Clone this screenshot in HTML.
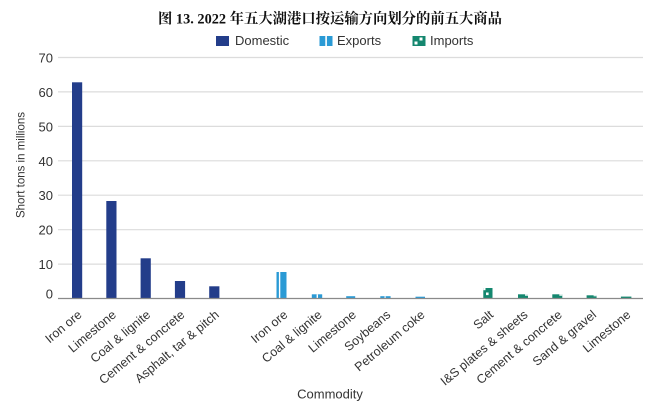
<!DOCTYPE html>
<html><head><meta charset="utf-8"><style>
html,body{margin:0;padding:0;background:#fff;}
svg{display:block;}
</style></head><body>
<svg width="660" height="403" viewBox="0 0 660 403" xmlns="http://www.w3.org/2000/svg">
<rect width="660" height="403" fill="#fff"/>
<text x="330" y="23.5" text-anchor="middle" font-family="'Liberation Serif','Noto Serif CJK SC',serif" font-weight="bold" font-size="14.5" textLength="344" lengthAdjust="spacingAndGlyphs" fill="#111">图 13. 2022 年五大湖港口按运输方向划分的前五大商品</text>
<!-- legend -->
<g font-family="'Liberation Sans',sans-serif" font-size="13" fill="#333">
<rect x="216" y="36" width="13" height="10" fill="#233d8a"/>
<text x="235" y="45">Domestic</text>
<rect x="319.5" y="36" width="13" height="10" fill="#2a9ad5"/>
<rect x="325.3" y="36" width="1.6" height="10" fill="#fff"/>
<text x="337" y="45">Exports</text>
<rect x="412.5" y="36" width="13" height="10" fill="#14876f"/>
<rect x="419.5" y="37.5" width="3" height="3" fill="#fff"/>
<rect x="414.5" y="41.5" width="3" height="3" fill="#fff"/>
<text x="430" y="45">Imports</text>
</g>
<!-- gridlines -->
<g stroke="#dcdcdc" stroke-width="1.2">
<line x1="58" y1="57.5" x2="643" y2="57.5"/>
<line x1="58" y1="91.9" x2="643" y2="91.9"/>
<line x1="58" y1="126.4" x2="643" y2="126.4"/>
<line x1="58" y1="160.8" x2="643" y2="160.8"/>
<line x1="58" y1="195.2" x2="643" y2="195.2"/>
<line x1="58" y1="229.7" x2="643" y2="229.7"/>
<line x1="58" y1="264.1" x2="643" y2="264.1"/>
</g>
<!-- y tick labels -->
<g font-family="'Liberation Sans',sans-serif" font-size="13" fill="#333" text-anchor="end">
<text x="53" y="62.5">70</text>
<text x="53" y="96.9">60</text>
<text x="53" y="131.4">50</text>
<text x="53" y="165.8">40</text>
<text x="53" y="200.2">30</text>
<text x="53" y="234.7">20</text>
<text x="53" y="269.1">10</text>
<text x="53" y="298.5">0</text>
</g>
<text transform="translate(24.5,165) rotate(-90)" text-anchor="middle" font-family="'Liberation Sans',sans-serif" font-size="12" textLength="106" lengthAdjust="spacingAndGlyphs" fill="#333">Short tons in millions</text>
<!-- domestic bars -->
<g fill="#233d8a">
<rect x="72" y="82.3" width="10.2" height="216.2"/>
<rect x="106.3" y="201" width="10.2" height="97.5"/>
<rect x="140.6" y="258.3" width="10.2" height="40.2"/>
<rect x="174.9" y="281" width="10.2" height="17.5"/>
<rect x="209.2" y="286.3" width="10.2" height="12.2"/>
</g>
<!-- export bars -->
<g fill="#2a9ad5">
<rect x="276.5" y="272" width="10" height="26.5"/>
<rect x="311.8" y="294.3" width="10.4" height="4.2"/>
<rect x="346.2" y="296.2" width="9" height="2.3"/>
<rect x="380.3" y="296.2" width="10.3" height="2.3"/>
<rect x="415.5" y="296.7" width="9.5" height="1.8"/>
</g>
<g fill="#fff">
<rect x="278.9" y="272" width="1.4" height="26.5"/>
<rect x="316.6" y="294.3" width="1.4" height="4.2"/>
<rect x="384.5" y="296.2" width="1.2" height="2.3"/>
</g>
<!-- import bars -->
<g fill="#14876f">
<rect x="483.3" y="288" width="9.2" height="10.5"/>
<rect x="518" y="294.3" width="10" height="4.2"/>
<rect x="552.3" y="294.3" width="10" height="4.2"/>
<rect x="586.6" y="295.3" width="10" height="3.2"/>
<rect x="620.9" y="296.6" width="10.5" height="1.9"/>
</g>
<g fill="#fff">
<rect x="483.3" y="288" width="2.2" height="2.2"/>
<rect x="486" y="292.5" width="2.6" height="2.6"/>
<rect x="525" y="294.3" width="3" height="1.4"/>
<rect x="559.3" y="294.3" width="3" height="1.4"/>
<rect x="593.6" y="295.3" width="3" height="1"/>
</g>
<!-- axis -->
<line x1="58" y1="298.5" x2="643" y2="298.5" stroke="#8a8a8a" stroke-width="1.3"/>
<!-- x labels -->
<g font-family="'Liberation Sans',sans-serif" font-size="12.5" fill="#333" text-anchor="end">
<text transform="translate(82.6,316) rotate(-40)">Iron ore</text>
<text transform="translate(116.9,316) rotate(-40)">Limestone</text>
<text transform="translate(151.2,316) rotate(-40)">Coal &amp; lignite</text>
<text transform="translate(185.5,316) rotate(-40)">Cement &amp; concrete</text>
<text transform="translate(219.8,316) rotate(-40)">Asphalt, tar &amp; pitch</text>
<text transform="translate(288.4,316) rotate(-40)">Iron ore</text>
<text transform="translate(322.7,316) rotate(-40)">Coal &amp; lignite</text>
<text transform="translate(357,316) rotate(-40)">Limestone</text>
<text transform="translate(391.3,316) rotate(-40)">Soybeans</text>
<text transform="translate(425.6,316) rotate(-40)">Petroleum coke</text>
<text transform="translate(494.2,316) rotate(-40)">Salt</text>
<text transform="translate(528.5,316) rotate(-40)">I&amp;S plates &amp; sheets</text>
<text transform="translate(562.8,316) rotate(-40)">Cement &amp; concrete</text>
<text transform="translate(597.1,316) rotate(-40)">Sand &amp; gravel</text>
<text transform="translate(631.4,316) rotate(-40)">Limestone</text>
</g>
<text x="330" y="398.5" text-anchor="middle" font-family="'Liberation Sans',sans-serif" font-size="13" fill="#333">Commodity</text>
</svg>
</body></html>
